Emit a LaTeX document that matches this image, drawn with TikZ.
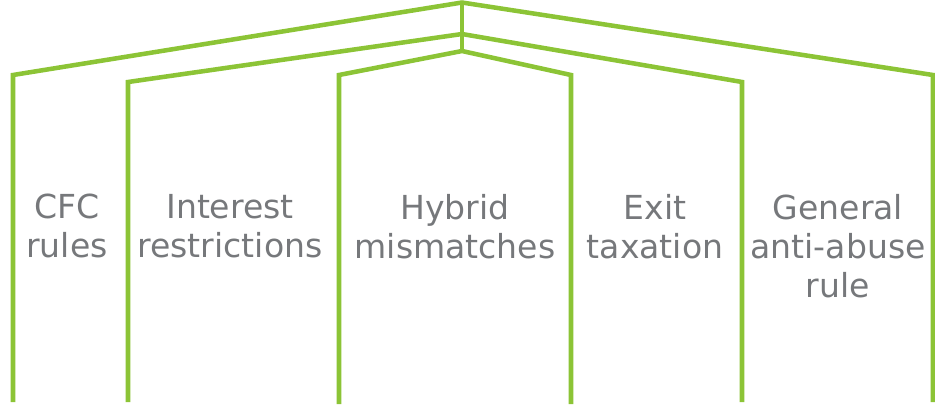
\documentclass[tikz,border=0pt]{standalone}
\usepackage{fontspec}
\setmainfont{DejaVu Sans}
\definecolor{roofgreen}{RGB}{140,196,54}
\definecolor{labelgray}{RGB}{118,120,123}
\tikzstyle{roof}=[draw=roofgreen, line width=3.4pt, line join=miter]
\tikzstyle{pillar}=[text=labelgray, align=center, anchor=north, inner sep=0pt, font=\fontsize{24.8}{29.3}\selectfont]
\def\toprow{194}

\begin{document}
\begin{tikzpicture}[x=0.75pt, y=-0.75pt]
			\useasboundingbox (0,0) rectangle (935,405);
			% apexes of the three roofs
			\coordinate (outer) at (462,2.5);
			\coordinate (middle) at (462,34);
			\coordinate (inner) at (462,51);
			\draw[roof] (13,402) -- (13,75) -- (outer) -- (933,75) -- (933,402);
			\draw[roof] (128,402) -- (128,82) -- (middle) -- (742,82) -- (742,402);
			\draw[roof] (339,404) -- (339,75) -- (inner) -- (571,75) -- (571,404);
			\draw[roof] (outer) -- (inner);
			% labels between the pillars
			\foreach \x/\name/\txt in {67/cfc/{CFC\\rules},
				230/interest/{Interest\\restrictions},
				455/hybrid/{Hybrid\\mismatches},
				655/exit/{Exit\\taxation},
				838/gaar/{General\\anti-abuse\\rule}} {
				\node[pillar] (\name) at (\x,\toprow) {\txt};
			}
		\end{tikzpicture}
\end{document}
